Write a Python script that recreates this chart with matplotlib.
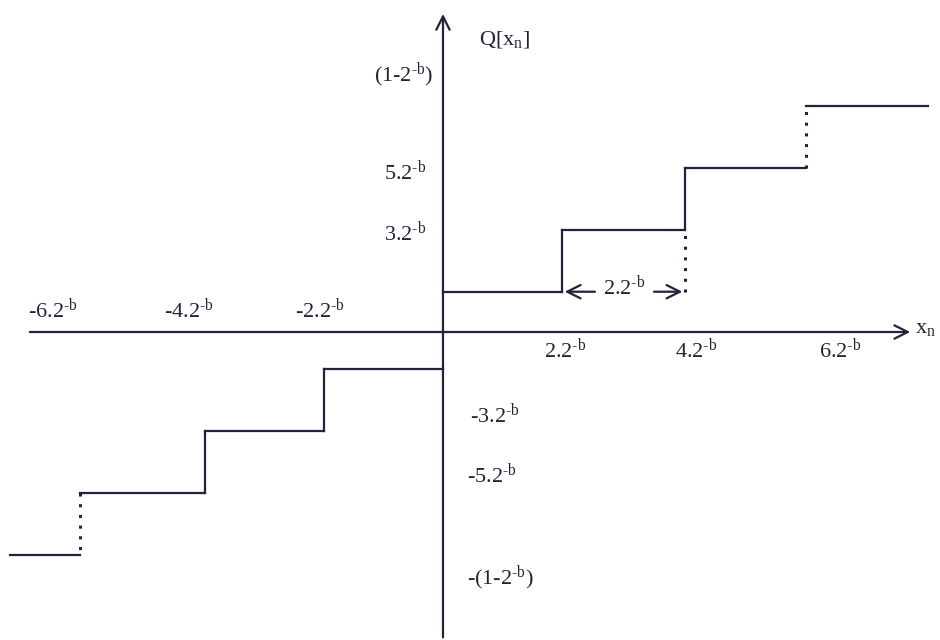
import numpy as np
import matplotlib
matplotlib.use('Agg')
import matplotlib.pyplot as plt

plt.rcParams['font.family'] = ['Liberation Serif', 'DejaVu Serif']
plt.rcParams['mathtext.fontset'] = 'custom'
plt.rcParams['mathtext.rm'] = 'Liberation Serif'
plt.rcParams['mathtext.it'] = 'Liberation Serif:italic'
plt.rcParams['mathtext.default'] = 'regular'

# quantizer staircase, x in units of 2^-b (levels)
edges_pos = [0, 2, 4.07, 6.1, 8.15]
levels_pos = [1.3, 3.3, 5.3, 7.3]
edges_neg = [0, -2, -4, -6.1, -7.28]
levels_neg = [-1.2, -3.2, -5.2, -7.2]

xtick_pos = [-6.55, -4.27, -2.07, 2.05, 4.25, 6.67]
xtick_lab = ['-6.2', '-4.2', '-2.2', '2.2', '4.2', '6.2']
ytick_pos = [8.29, 5.16, 3.19, -2.68, -4.61, -7.94]
ytick_lab = ['(1-2$^{\\text{-b}}$)', '5.2$^{\\text{-b}}$', '3.2$^{\\text{-b}}$',
             '-3.2$^{\\text{-b}}$', '-5.2$^{\\text{-b}}$', '-(1-2$^{\\text{-b}}$)']
ytick_x = [-0.67, -0.64, -0.64, 0.87, 0.82, 0.96]

col = '#22223a'
lw = 1.6
fs = 16
dots = (0, (1, 2.5))

fig = plt.figure(figsize=(9.4, 6.4), dpi=100)
ax = fig.add_axes([0, 0, 1, 1])
ax.set_xlim(-7.445, 8.353)
ax.set_ylim(-9.935, 10.71)
ax.axis('off')

# axes with open arrow heads
ax.annotate('', xy=(7.9, 0), xytext=(-6.99, 0),
            arrowprops=dict(arrowstyle='->', color=col, lw=lw, mutation_scale=24))
ax.annotate('', xy=(0, 10.35), xytext=(0, -9.94),
            arrowprops=dict(arrowstyle='->', color=col, lw=lw, mutation_scale=24))

# positive staircase
for i in range(len(levels_pos)):
    ax.plot([edges_pos[i], edges_pos[i+1]], [levels_pos[i], levels_pos[i]], color=col, lw=lw)
ax.plot([edges_pos[1], edges_pos[1]], [levels_pos[0], levels_pos[1]], color=col, lw=lw)
ax.plot([edges_pos[2], edges_pos[2]], [levels_pos[1], levels_pos[2]], color=col, lw=lw)
ax.plot([edges_pos[2], edges_pos[2]], [levels_pos[0], levels_pos[1]], color=col, lw=2.2, ls=dots)
ax.plot([edges_pos[3], edges_pos[3]], [levels_pos[2], levels_pos[3]], color=col, lw=2.2, ls=dots)

# negative staircase
for i in range(len(levels_neg)):
    ax.plot([edges_neg[i], edges_neg[i+1]], [levels_neg[i], levels_neg[i]], color=col, lw=lw)
ax.plot([edges_neg[1], edges_neg[1]], [levels_neg[0], levels_neg[1]], color=col, lw=lw)
ax.plot([edges_neg[2], edges_neg[2]], [levels_neg[1], levels_neg[2]], color=col, lw=lw)
ax.plot([edges_neg[3], edges_neg[3]], [levels_neg[2], levels_neg[3]], color=col, lw=2.2, ls=dots)

# step width marker
ax.annotate('', xy=(2.0, 1.3), xytext=(2.6, 1.3),
            arrowprops=dict(arrowstyle='->', color=col, lw=lw, mutation_scale=24))
ax.annotate('', xy=(edges_pos[2], 1.3), xytext=(3.5, 1.3),
            arrowprops=dict(arrowstyle='->', color=col, lw=lw, mutation_scale=24))
ax.text(3.05, 1.45, '2.2$^{\\text{-b}}$', ha='center', va='center', fontsize=fs, color=col)

# labels
for x, t in zip(xtick_pos, xtick_lab):
    y = 0.71 if x < 0 else -0.58
    ax.text(x, y, t + '$^{\\text{-b}}$', ha='center', va='center', fontsize=fs, color=col)
for x, y, t in zip(ytick_x, ytick_pos, ytick_lab):
    ax.text(x, y, t, ha='center', va='center', fontsize=fs, color=col)

ax.text(1.04, 9.42, 'Q[x$_{n}$]', ha='center', va='center', fontsize=fs, color=col)
ax.text(7.93, 0.1, 'x$_{n}$', ha='left', va='center', fontsize=fs, color=col)

fig.savefig('out.png', dpi=100)
